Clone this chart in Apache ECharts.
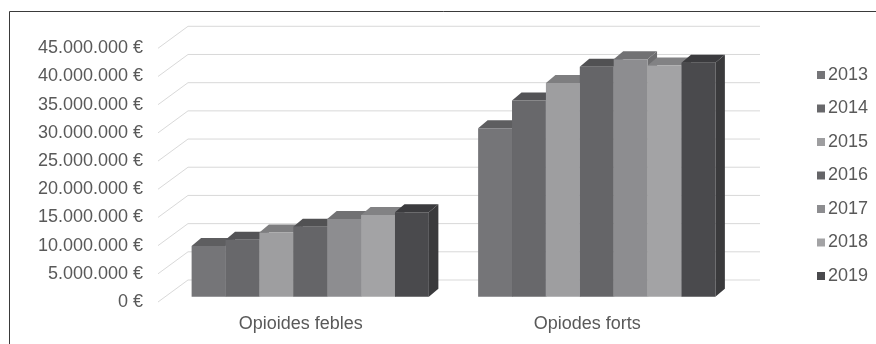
<!DOCTYPE html>
<html>
<head>
<meta charset="utf-8">
<script src="https://cdn.jsdelivr.net/npm/echarts@6/dist/echarts.min.js"></script>
<style>
  html, body { margin: 0; padding: 0; background: #fff; }
  #chart { width: 876px; height: 344px; }
</style>
</head>
<body>
<div id="chart"></div>
<script>
// Categories and yearly spending (euros)
const categories = ['Opioides febles', 'Opiodes forts'];
const years = ['2013', '2014', '2015', '2016', '2017', '2018', '2019'];
const feblesValues = [9000000, 10100000, 11400000, 12400000, 13800000, 14500000, 15000000];
const fortsValues = [29900000, 34800000, 37900000, 40800000, 42100000, 41000000, 41500000];
const yTicks = [0, 5000000, 10000000, 15000000, 20000000, 25000000, 30000000, 35000000, 40000000, 45000000];

const yearColors = ['#757578', '#68686b', '#9e9ea0', '#656568', '#8d8d90', '#a3a3a5', '#4a4a4d'];

// pseudo-3D projection of the depth axis
const DEPTH_DX = 9.5, DEPTH_DY = 8;              // bar depth
const WALL_BACK_DX = 21, WALL_BACK_DY = -16.7;   // back wall relative to bar plane
const WALL_FRONT_DX = -9, WALL_FRONT_DY = 5.3;   // front edge relative to bar plane
const WALL_RIGHT_EXTRA = 20;
const BAR_FRACTION = 0.1183;
const FONT = '"Liberation Sans", Arial, sans-serif';
const TEXT_COLOR = '#595959';

// bar plane grid, and a copy shifted onto the front edge for the value labels
const PLOT = { left: 167, top: 43, width: 573, height: 253.7 };

function shade(hex, k) {
  const n = parseInt(hex.slice(1), 16);
  const r = Math.round(((n >> 16) & 255) * k);
  const g = Math.round(((n >> 8) & 255) * k);
  const b = Math.round((n & 255) * k);
  return 'rgb(' + r + ',' + g + ',' + b + ')';
}

function euro(v) {
  return String(v).replace(/\B(?=(\d{3})+(?!\d))/g, '.') + ' €';
}

function barRenderer(yearIndex) {
  return function (params, api) {
    const cat = api.value(0);
    const val = api.value(1);
    const base = api.coord([cat, 0]);
    const top = api.coord([cat, val]);
    const band = api.size([1, 0])[0];
    const w = band * BAR_FRACTION;
    const x0 = base[0] + (yearIndex - years.length / 2) * w;
    const x1 = x0 + w;
    const ty = top[1], by = base[1];
    const color = yearColors[yearIndex];
    return {
      type: 'group',
      children: [
        {
          type: 'polygon',
          shape: { points: [[x1, ty], [x1 + DEPTH_DX, ty - DEPTH_DY], [x1 + DEPTH_DX, by - DEPTH_DY], [x1, by]] },
          style: { fill: shade(color, 0.78) }
        },
        {
          type: 'polygon',
          shape: { points: [[x0, ty], [x0 + DEPTH_DX, ty - DEPTH_DY], [x1 + DEPTH_DX, ty - DEPTH_DY], [x1, ty]] },
          style: { fill: shade(color, 0.8) }
        },
        {
          type: 'rect',
          shape: { x: x0, y: ty, width: w, height: by - ty },
          style: { fill: color }
        }
      ]
    };
  };
}

function wallRenderer(params, api) {
  const cs = params.coordSys;
  const y = api.coord([0, api.value(1)])[1];
  const left = cs.x;
  const right = cs.x + cs.width + WALL_RIGHT_EXTRA;
  return {
    type: 'polyline',
    shape: {
      points: [
        [left + WALL_FRONT_DX, y + WALL_FRONT_DY],
        [left + WALL_BACK_DX, y + WALL_BACK_DY],
        [right, y + WALL_BACK_DY]
      ]
    },
    style: { stroke: '#d9d9d9', lineWidth: 1, fill: null }
  };
}

const series = [{
  type: 'custom',
  name: 'wall',
  renderItem: wallRenderer,
  data: yTicks.map(v => [0, v]),
  silent: true,
  z: 1
}];

years.forEach((yr, i) => {
  series.push({
    type: 'custom',
    name: yr,
    renderItem: barRenderer(i),
    data: [[0, feblesValues[i]], [1, fortsValues[i]]],
    itemStyle: { color: yearColors[i] },
    z: 2 + i
  });
});

const chart = echarts.init(document.getElementById('chart'), null, { renderer: 'canvas' });
chart.setOption({
  animation: false,
  backgroundColor: '#fff',
  textStyle: { fontFamily: FONT },
  grid: [
    { left: PLOT.left, top: PLOT.top, width: PLOT.width, height: PLOT.height },
    { left: PLOT.left, top: PLOT.top + WALL_FRONT_DY, width: PLOT.width, height: PLOT.height }
  ],
  xAxis: [{
    type: 'category',
    data: categories,
    axisLine: { show: false },
    axisTick: { show: false },
    axisLabel: {
      color: TEXT_COLOR, fontSize: 18, fontFamily: FONT,
      margin: 18, padding: [0, 19, 0, 0]
    }
  }, {
    type: 'category',
    gridIndex: 1,
    data: categories,
    show: false
  }],
  yAxis: [{
    type: 'value',
    min: 0, max: 45000000, interval: 5000000,
    axisLine: { show: false },
    axisTick: { show: false },
    splitLine: { show: false },
    axisLabel: { show: false }
  }, {
    type: 'value',
    gridIndex: 1,
    min: 0, max: 45000000, interval: 5000000,
    axisLine: { show: false },
    axisTick: { show: false },
    splitLine: { show: false },
    axisLabel: {
      color: TEXT_COLOR, fontSize: 18, fontFamily: FONT,
      margin: 24,
      formatter: euro
    }
  }],
  legend: {
    data: years,
    orient: 'vertical',
    left: 812, top: 61,
    itemWidth: 8, itemHeight: 8,
    itemGap: 15.5,
    icon: 'rect',
    textStyle: { color: TEXT_COLOR, fontSize: 18, fontFamily: FONT, lineHeight: 18, padding: [0, 0, 0, -2] }
  },
  graphic: [{
    type: 'rect',
    shape: { x: 9.5, y: 11.5, width: 900, height: 400 },
    style: { fill: null, stroke: '#3a3a3a', lineWidth: 1 },
    silent: true,
    z: 100
  }],
  series: series
});
</script>
</body>
</html>
